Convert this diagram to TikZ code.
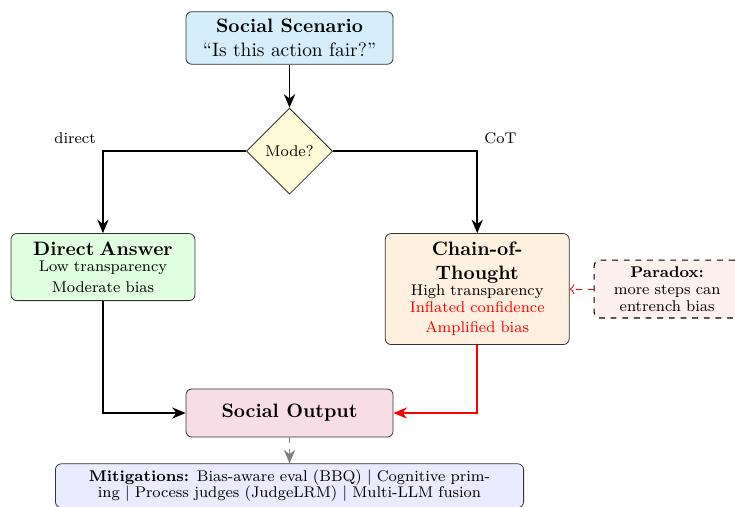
\documentclass[tikz,border=0pt]{standalone}
\usepackage{amsmath}
\usepackage{tikz}
\usetikzlibrary{arrows.meta,shapes.geometric,positioning}
\tikzstyle{every node}=[font=\fontsize{8}{8.6}\selectfont]
\definecolor{scenblue}{RGB}{214,238,250}

\begin{document}
\begin{tikzpicture}[->,>={Stealth[length=7pt,width=5.8pt]},thick,node distance=1cm]
  \tikzstyle{box}=[draw=black!80,thin,rounded corners=3pt,align=center,inner sep=4pt]
  \tikzstyle{decision}=[draw=black!80,thin,diamond,aspect=1,fill=yellow!15,
                        minimum width=1.56cm,minimum height=1.56cm,inner sep=1pt]

  \useasboundingbox (0,0) rectangle (13.315,-9.167);

  \node[box,fill=scenblue,font=\normalsize,minimum width=3.75cm,minimum height=0.906cm]
        (scen) at (5.245,-0.688) {\textbf{Social Scenario}\\ ``Is this action fair?''};
  \node[decision]      (mode)   [below=0.78cm of scen] {Mode?};
  \node[box,fill=green!12,text width=3.05cm,minimum height=1.214cm]
        (direct) [below=0.70cm of mode,xshift=-3.38cm]
        {{\normalsize\bfseries Direct Answer\par}Low transparency\\[2pt] Moderate bias};
  \node[box,fill=orange!12,text width=3.05cm,minimum height=2.01cm]
        (cot) [below=0.70cm of mode,xshift=3.40cm]
        {{\normalsize\bfseries Chain-of-Thought\par}High transparency\\
         \textcolor{red}{Inflated confidence}\\[2pt] \textcolor{red}{Amplified bias}};
  \node[box,draw=black,semithick,dashed,fill=red!6,text width=2.4cm,inner sep=3.5pt]
        (para) [right=0.435cm of cot] {\textbf{Paradox:}\\ more steps can entrench bias};
  \node[box,fill=purple!13,font=\normalsize\bfseries,minimum width=3.75cm,minimum height=0.87cm]
        (out) [below=3.515cm of mode] {Social Output};
  \node[box,fill=blue!8,text width=8.27cm,inner sep=3pt]
        (mitig) [below=0.471cm of out]
        {\textbf{Mitigations:} Bias-aware eval (BBQ) $|$ Cognitive priming $|$ Process judges (JudgeLRM) $|$ Multi-LLM fusion};

  \path (scen)      edge (mode);
  \draw (mode.west) -| node[above left] {direct} (direct);
  \draw (mode.east) -| node[above right] {CoT} (cot);
  \draw (direct) |- (out);
  \draw[red] (cot) |- (out);
  \draw[gray,dashed] (out) -- (mitig);
  \draw[red,thin,dashed,>=To] (para) -- (cot);
\end{tikzpicture}
\end{document}
